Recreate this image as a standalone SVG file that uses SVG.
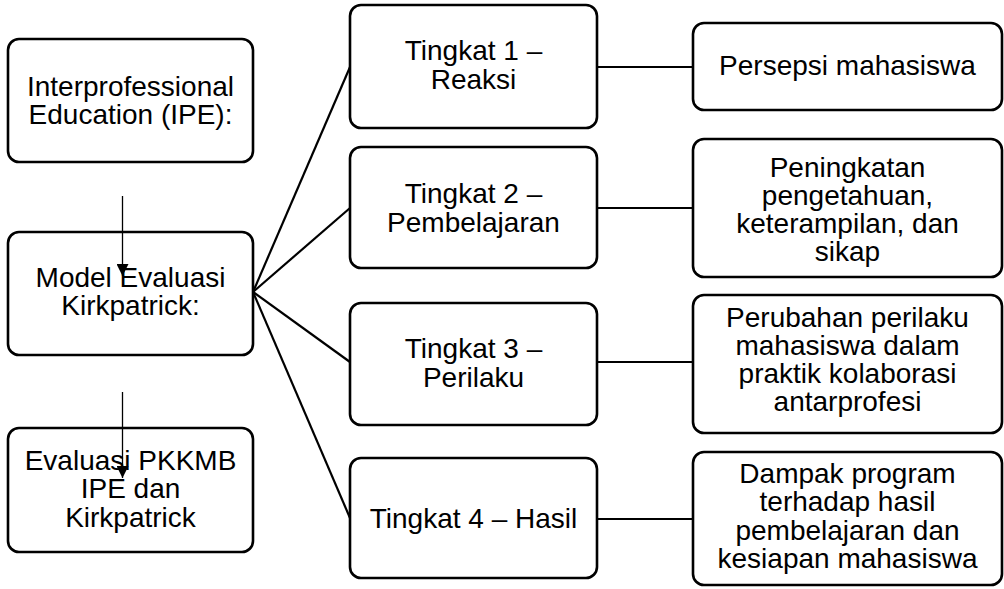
<svg xmlns="http://www.w3.org/2000/svg" width="1004" height="589" viewBox="0 0 1004 589">
<defs>
<marker id="ah" viewBox="0 0 12 12" refX="12" refY="6" markerWidth="12" markerHeight="12" markerUnits="userSpaceOnUse" orient="auto">
<path d="M0,0 L12,6 L0,12 Z" fill="#000"/>
</marker>
<style>
.box{fill:#fff;stroke:#000;stroke-width:2.6}
.t{font-family:"Liberation Sans",Arial,sans-serif;font-size:28px;fill:#000;text-anchor:middle}
.c{stroke:#000;stroke-width:2.2;fill:none}
.a{stroke:#000;stroke-width:1.3;fill:none}
</style>
</defs>
<rect width="1004" height="589" fill="#fff"/>
<g id="n-ipe"><rect class="box" x="8" y="39" width="245" height="123" rx="11"/>
<text class="t" x="130.5" y="96">Interprofessional</text><text class="t" x="130.5" y="124">Education (IPE):</text></g>
<g id="n-model"><rect class="box" x="8" y="232" width="245" height="123" rx="11"/>
<text class="t" x="130.5" y="287">Model Evaluasi</text><text class="t" x="130.5" y="315">Kirkpatrick:</text></g>
<g id="n-eval"><rect class="box" x="8" y="428" width="245" height="124" rx="11"/>
<text class="t" x="130.5" y="470">Evaluasi PKKMB</text><text class="t" x="130.5" y="498">IPE dan</text><text class="t" x="130.5" y="527">Kirkpatrick</text></g>
<g id="n-t1"><rect class="box" x="350" y="5" width="247" height="123" rx="11"/>
<text class="t" x="473.5" y="60">Tingkat 1 –</text><text class="t" x="473.5" y="89">Reaksi</text></g>
<g id="n-t2"><rect class="box" x="350" y="147" width="247" height="121" rx="11"/>
<text class="t" x="473.5" y="203">Tingkat 2 –</text><text class="t" x="473.5" y="232">Pembelajaran</text></g>
<g id="n-t3"><rect class="box" x="350" y="303" width="247" height="122" rx="11"/>
<text class="t" x="473.5" y="358">Tingkat 3 –</text><text class="t" x="473.5" y="387">Perilaku</text></g>
<g id="n-t4"><rect class="box" x="350" y="458" width="247" height="120" rx="11"/>
<text class="t" x="473.5" y="528">Tingkat 4 – Hasil</text></g>
<g id="n-r1"><rect class="box" x="693" y="23" width="309" height="87" rx="11"/>
<text class="t" x="847.5" y="75">Persepsi mahasiswa</text></g>
<g id="n-r2"><rect class="box" x="693" y="139" width="309" height="138" rx="11"/>
<text class="t" x="847.5" y="177">Peningkatan</text><text class="t" x="847.5" y="205">pengetahuan,</text><text class="t" x="847.5" y="233">keterampilan, dan</text><text class="t" x="847.5" y="261">sikap</text></g>
<g id="n-r3"><rect class="box" x="693" y="295" width="309" height="138" rx="11"/>
<text class="t" x="847.5" y="327">Perubahan perilaku</text><text class="t" x="847.5" y="355">mahasiswa dalam</text><text class="t" x="847.5" y="383">praktik kolaborasi</text><text class="t" x="847.5" y="411">antarprofesi</text></g>
<g id="n-r4"><rect class="box" x="693" y="452" width="309" height="133" rx="11"/>
<text class="t" x="847.5" y="483">Dampak program</text><text class="t" x="847.5" y="511">terhadap hasil</text><text class="t" x="847.5" y="540">pembelajaran dan</text><text class="t" x="847.5" y="568">kesiapan mahasiswa</text></g>
<g id="connectors">
<line class="a" x1="122.5" y1="196" x2="122.5" y2="276" marker-end="url(#ah)"/>
<line class="a" x1="122.5" y1="392" x2="122.5" y2="478" marker-end="url(#ah)"/>
<line class="c" x1="253" y1="292" x2="350" y2="67"/>
<line class="c" x1="253" y1="292" x2="350" y2="208"/>
<line class="c" x1="253" y1="292" x2="350" y2="362"/>
<line class="c" x1="253" y1="292" x2="350" y2="518"/>
<line class="c" x1="597" y1="67" x2="693" y2="67"/>
<line class="c" x1="597" y1="208" x2="693" y2="208"/>
<line class="c" x1="597" y1="362" x2="693" y2="362"/>
<line class="c" x1="597" y1="519" x2="693" y2="519"/>
</g>
</svg>
